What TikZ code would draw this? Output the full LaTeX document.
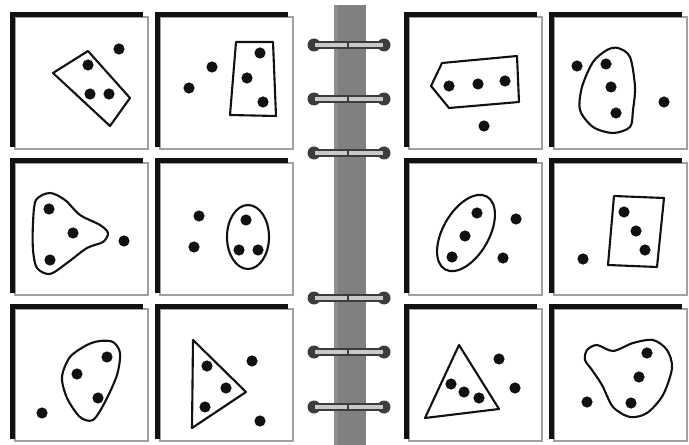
\documentclass[tikz,border=0pt]{standalone}
\usetikzlibrary{calc}
\definecolor{ink}{HTML}{111111}
\definecolor{spine}{HTML}{808080}
\definecolor{spinelight}{HTML}{8E8E8E}
\definecolor{ringdark}{HTML}{3C3C3C}
\definecolor{ringlight}{HTML}{C9C9C9}
\definecolor{edge}{HTML}{A0A0A0}
\newcommand{\panel}[2]{\draw[edge,line width=0.9pt] (#1+5,#2+5) rectangle (#1+138,#2+137);\draw[ink,line width=3.5pt] (#1+2.5,#2+135)--(#1+2.5,#2+2.5)--(#1+133,#2+2.5);}
\newcommand{\binderring}[1]{\fill[ringdark] (314,#1) circle (6.5) (384,#1) circle (6.5);\draw[ringdark,fill=ringlight,line width=0.8pt] (314,#1-3) rectangle (384,#1+3);\draw[ringdark,line width=0.8pt] (348,#1-3)--(348,#1+3);}
\newcommand{\spots}[1]{\foreach \x/\y in {#1}{\fill[ink] (\x,\y) circle (5.6);}}

\begin{document}
\begin{tikzpicture}[x=0.025cm,y=-0.025cm,outline/.style={ink,line width=1.5pt,line join=round}]
\useasboundingbox (0,0) rectangle (689,445);
\fill[spine] (334,5) rectangle (366,445);\fill[spinelight] (334,5) rectangle (338,445);
\foreach \y in {45,99,153,298,352,407}{\binderring{\y}}
\foreach \a in {10,155,404,549}{\foreach \b in {12,158,304}{\panel{\a}{\b}}}
\draw[outline] (53,73)--(88,51)--(130,98)--(110,126)--cycle;\spots{88/65,90/94,109/94,119/49}
\draw[outline] (236,42)--(273,42)--(276,116)--(230,115)--cycle;\spots{260/53,247/78,263/102,212/67,189/88}
\draw[outline] plot[smooth cycle] coordinates {(36,200)(50,193)(65,200)(80,215)(100,225)(108,233)(103,242)(87,248)(67,263)(50,274)(37,268)(33,250)(33,223)};\spots{49/209,73/233,50/260,124/241}
\draw[outline] (248,237) ellipse (21 and 32);\spots{246/220,239/250,258/250,199/216,194/247}
\draw[outline] plot[smooth cycle] coordinates {(113,342)(120,353)(117,375)(105,402)(93,420)(80,417)(67,398)(62,377)(70,357)(87,345)(100,341)};\spots{107/357,77/374,98/398,42/413}
\draw[outline] (193,340)--(246,392)--(192,428)--cycle;\spots{207/366,226/388,205/407,252/361,260/421}
\draw[outline] (431,86)--(442,63)--(517,56)--(519,102)--(449,108)--cycle;\spots{449/86,478/84,505/81,484/126}
\draw[outline] plot[smooth cycle] coordinates {(618,48)(630,57)(635,87)(633,110)(630,127)(613,133)(593,127)(580,110)(582,87)(593,62)(607,50)};\spots{606/64,611/87,616/113,577/66,664/102}
\draw[outline,rotate around={60:(466,233)}] (466,233) ellipse (42 and 23);\spots{477/213,465/236,452/257,516/219,503/258}
\draw[outline] (614,196)--(664,198)--(657,267)--(608,265)--cycle;\spots{624/212,636/231,645/250,583/259}
\draw[outline] (459,345)--(499,409)--(425,418)--cycle;\spots{451/384,464/392,479/398,499/359,515/388}
\draw[outline] plot[smooth cycle] coordinates {(587,350)(597,345)(613,351)(633,343)(653,340)(667,350)(672,368)(663,395)(647,413)(630,417)(613,407)(602,385)(592,370)(585,360)};\spots{647/353,639/377,631/403,587/402}
\end{tikzpicture}
\end{document}
